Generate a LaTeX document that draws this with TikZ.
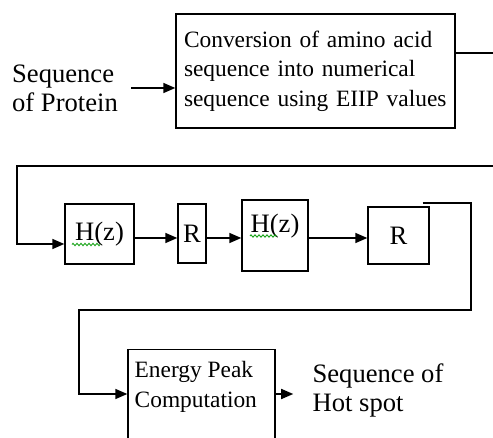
\documentclass[tikz,border=0pt]{standalone}
\usepackage{fontspec}
\setmainfont{Liberation Serif}
\usetikzlibrary{arrows.meta,decorations.pathmorphing}

\tikzset{
  blk/.style={draw,line width=0.7pt,inner sep=0pt},
  flow/.style={line width=0.8pt,-{Triangle[length=6pt,width=5pt]}},
  wire/.style={line width=0.8pt},
  boxtxt/.style={font=\fontsize{11.7}{14.8}\selectfont},
  freetxt/.style={font=\fontsize{13.3}{14.5}\selectfont},
  squiggle/.style={green!60!black,line width=0.4pt,decorate,
    decoration={zigzag,amplitude=0.6pt,segment length=2pt}}
}

\begin{document}
\begin{tikzpicture}[x=0.5pt,y=-0.5pt]
	\useasboundingbox (0,0) rectangle (493,438);
	\clip (0,0) rectangle (493,438);
	% first row
	\node[freetxt,align=left,inner xsep=6.5pt] (prot) at (65,88) {Sequence\\of Protein};
	\node[blk,boxtxt,minimum width=139.5pt,minimum height=57pt,text width=131.5pt,align=left] (conv) at (315.5,71)
		{Conversion of amino acid\\sequence into numerical\\sequence using EIIP values};
	\draw[flow] (prot.east) -- (prot.east -| conv.west);
	\coordinate (out1) at (493,53);
	\draw[wire] (conv.east |- out1) -- (out1);
	% second row
	\coordinate (in2) at (493,166);
	\coordinate (lp1) at (17,166);
	\coordinate (rowy) at (0,238);
	\coordinate (feed) at (0,244);
	\node[blk,freetxt,minimum width=34.5pt,minimum height=30pt] (h1) at (99.5,234) {H(z)};
	\node[blk,freetxt,minimum width=14pt,minimum height=29.5pt] (r1) at (192,233.5) {R};
	\node[blk,freetxt,minimum width=33pt,minimum height=35.5pt,text height=10pt,text depth=13pt] (h2) at (275,235.5) {H(z)};
	\node[blk,freetxt,minimum width=30.5pt,minimum height=28.5pt] (r2) at (398.5,235.5) {R};
	\draw[flow] (in2) -- (lp1) |- (h1.west |- feed);
	\draw[flow] (h1.east |- rowy) -- (r1.west |- rowy);
	\draw[flow] (r1.east |- rowy) -- (h2.west |- rowy);
	\draw[flow] (h2.east |- rowy) -- (r2.west |- rowy);
	\draw[squiggle] ([xshift=-13.75pt,yshift=-5.25pt]h1.center) -- ++(28,0);
	\draw[squiggle] ([xshift=-12.5pt,yshift=-0.25pt]h2.center) -- ++(27,0);
	% third row
	\coordinate (tap) at ([xshift=-3.5pt,yshift=1.5pt]r2.north east);
	\coordinate (c1) at (471,310);
	\coordinate (c2) at (79,310);
	\coordinate (hot) at (0,394);
	\node[blk,anchor=north,minimum width=73.5pt,minimum height=60pt] (energy) at (201.5,349) {};
	\node[boxtxt,align=left,anchor=north west,inner sep=0pt] (energytxt) at ([xshift=3.5pt,yshift=-6pt]energy.north west)
		{Energy Peak\\Computation};
	\node[freetxt,align=left,inner xsep=9.5pt] (hotspot) at (378,390) {Sequence of\\Hot spot};
	\draw[flow] (tap) -| (c1) -- (c2) |- (energy.west |- hot);
	\draw[flow] (energy.east |- hot) -- (hotspot.west |- hot);
\end{tikzpicture}
\end{document}
